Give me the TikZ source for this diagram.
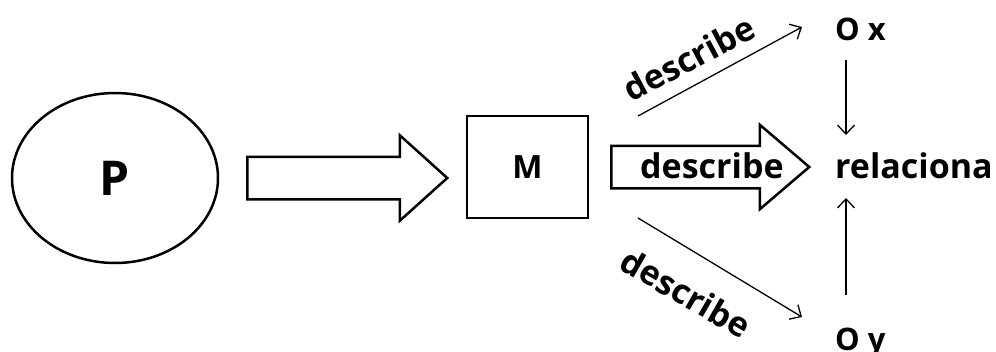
\documentclass[tikz,border=0pt]{standalone}
\usepackage{fontspec}
\setmainfont{Open Sans}
\usetikzlibrary{shapes.geometric, shapes.arrows, arrows.meta, positioning}

\tikzset{
  big/.style={font=\bfseries\fontsize{34}{34}\selectfont, inner sep=0pt},
  small/.style={font=\bfseries\fontsize{31}{31}\selectfont, inner sep=0pt},
  hollow/.style={single arrow, draw, line width=2.5pt, inner xsep=0pt, inner ysep=20pt, anchor=tail},
  thin/.style={line width=1.3pt, -{Straight Barb[length=9pt, width=17pt]}},
}

\begin{document}
\begin{tikzpicture}[x=1pt, y=-1pt]
    \useasboundingbox (0,0) rectangle (996,351);

    \node[ellipse, draw, line width=2.5pt, minimum width=206pt, minimum height=170pt,
          font=\bfseries\fontsize{48}{48}\selectfont] (P) at (115,178) {P};
    \node[draw, line width=2.5pt, minimum width=121pt, minimum height=102pt,
          font=\bfseries\fontsize{32}{32}\selectfont] (M) at (527.5,167) {M};

    \node[hollow, minimum height=200pt, minimum width=83pt, single arrow head extend=21.5pt,
          single arrow tip angle=84] (a1) at (246,178) {};
    \node[hollow, minimum height=198pt, minimum width=82pt, single arrow head extend=21pt,
          single arrow tip angle=81] (a2) at (610,167) {};
    \node[big, anchor=base west] (d2) at (640,178) {describe};

    \node[big, anchor=base west] (rel) at (835,178) {relaciona};
    \node[small, anchor=base west] (Ox) at (835,40) {O x};
    \node[small, anchor=base west] (Oy) at (835,350) {O y};

    % thin arrows
    \coordinate (u0) at (638,116);
    \coordinate (u1) at (802,27);
    \coordinate (l0) at (638,218);
    \coordinate (l1) at (802,317);
    \coordinate (x0) at (846,60);
    \coordinate (x1) at (846,135);
    \coordinate (y0) at (846,295);
    \coordinate (y1) at (846,198);

    \draw[thin] (u0) -- (u1);
    \draw[thin] (l0) -- (l1);
    \draw[thin] (x0) -- (x1);
    \draw[thin] (y0) -- (y1);

    \node[big, rotate=28] (d1) at (689,58) {describe};
    \node[big, rotate=-30] (d3) at (686,293) {describe};
\end{tikzpicture}
\end{document}
